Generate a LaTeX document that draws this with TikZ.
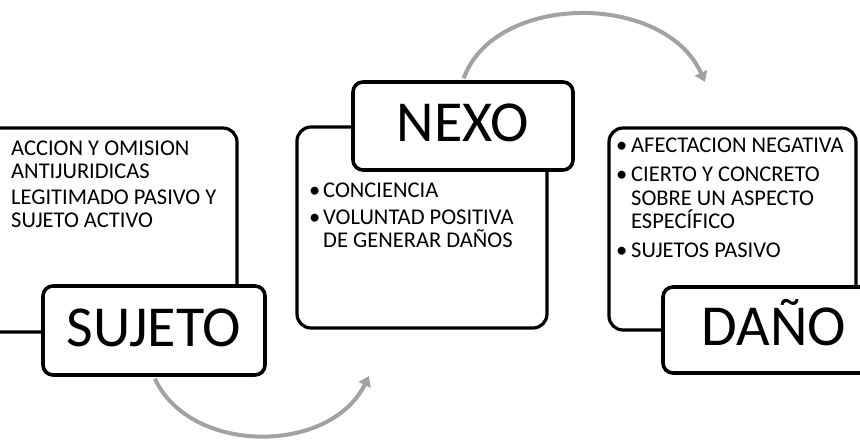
\documentclass[tikz,border=0pt]{standalone}
\usepackage{fontspec}
\setmainfont{Carlito}
\usetikzlibrary{arrows.meta}
\definecolor{arrowgray}{RGB}{160,162,166}
\begin{document}
\begin{tikzpicture}[x=1pt,y=-1pt,
  frame/.style={draw=black,line width=3.2pt,rounded corners=14pt},
  labelbox/.style={draw=black,line width=3.6pt,rounded corners=10pt,fill=white,inner sep=0pt,
    text height=37pt,text depth=6pt,font=\fontsize{58}{60}\selectfont},
  bodytext/.style={anchor=base west,inner sep=0pt,font=\fontsize{22.5}{24}\selectfont},
  flow/.style={draw=arrowgray,line width=4pt,-{Triangle[length=10pt,width=13pt]}}]
\useasboundingbox (0,0) rectangle (860,440);
\clip (0,0) rectangle (860,440);
\fill[white] (0,0) rectangle (860,440);

% SUJETO frame and label
\draw[frame] (-20,128) rectangle (237,332);
\node[labelbox,minimum width=222pt,minimum height=89pt] (sujeto) at (154,330.5) {SUJETO};
\node[bodytext] (s1) at (11,155) {ACCION Y OMISION};
\node[bodytext] (s2) at (11,178) {ANTIJURIDICAS};
\node[bodytext] (s3) at (11,204) {LEGITIMADO PASIVO Y};
\node[bodytext] (s4) at (11,227) {SUJETO ACTIVO};

% NEXO frame and label
\draw[frame] (297,127) rectangle (547,328);
\node[labelbox,minimum width=220pt,minimum height=88pt] (nexo) at (463,126) {NEXO};
\node[bodytext] (nb1) at (309,197) {•};
\node[bodytext] (n1) at (323,197) {CONCIENCIA};
\node[bodytext] (nb2) at (309,224) {•};
\node[bodytext] (n2) at (323,224) {VOLUNTAD POSITIVA};
\node[bodytext] (n3) at (323,247) {DE GENERAR DAÑOS};

% DAÑO frame and label
\draw[frame] (609,128) rectangle (856,330);
\node[labelbox,minimum width=222pt,minimum height=86pt] (dano) at (774,330) {DAÑO};
\node[bodytext] (db1) at (616,152) {•};
\node[bodytext] (d1) at (631,152) {AFECTACION NEGATIVA};
\node[bodytext] (db2) at (616,181) {•};
\node[bodytext] (d2) at (631,181) {CIERTO Y CONCRETO};
\node[bodytext] (d3) at (631,205) {SOBRE UN ASPECTO};
\node[bodytext] (d4) at (631,228) {ESPECÍFICO};
\node[bodytext] (db3) at (616,257) {•};
\node[bodytext] (d5) at (631,257) {SUJETOS PASIVO};

% flow arrows
\coordinate (e1) at (369,376);
\coordinate (e2) at (705,82);
\draw[flow,shorten <=2pt] (sujeto.south) .. controls (190,455) and (330,455) .. (e1);
\draw[flow,shorten <=2pt] (nexo.north) .. controls (495,-8) and (665,-8) .. (e2);
\end{tikzpicture}
\end{document}
